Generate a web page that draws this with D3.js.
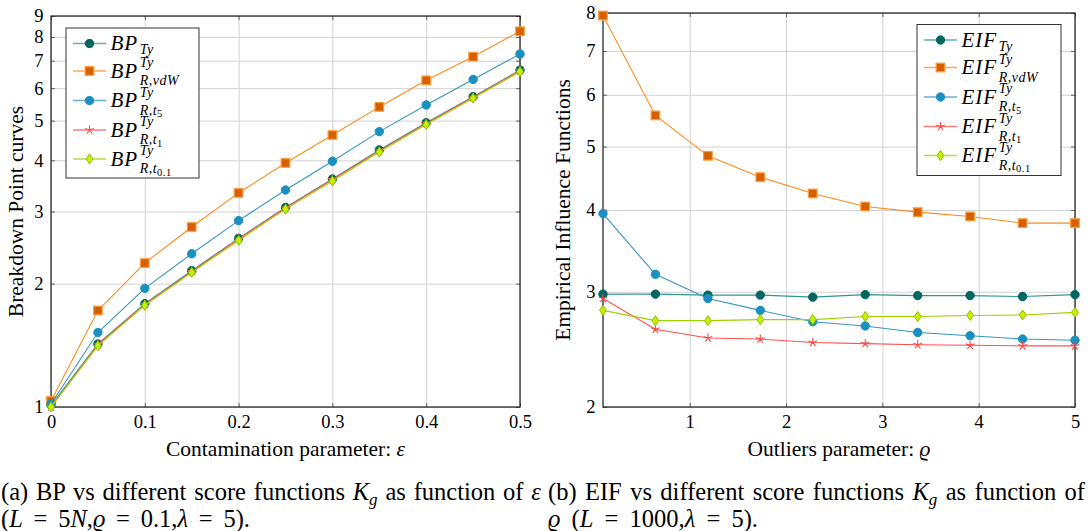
<!DOCTYPE html>
<html>
<head>
<meta charset="utf-8">
<script src="https://cdn.jsdelivr.net/npm/d3@7"></script>
<style>
body { margin: 0; background: #fff; }
</style>
</head>
<body>
<div class="canvas"></div>
<script>
// left panel: breakdown point vs contamination
const epsilon = [0, 0.05, 0.1, 0.15, 0.2, 0.25, 0.3, 0.35, 0.4, 0.45, 0.5];
const bpTy  = [1.01, 1.425, 1.787, 2.151, 2.58, 3.07, 3.60, 4.24, 4.94, 5.72, 6.64];
const bpVdW = [1.034, 1.72, 2.245, 2.75, 3.33, 3.94, 4.61, 5.40, 6.27, 7.16, 8.26];
const bpT5  = [1.017, 1.52, 1.948, 2.366, 2.85, 3.385, 3.98, 4.70, 5.46, 6.30, 7.27];
const bpT1  = [1.00, 1.42, 1.78, 2.14, 2.57, 3.06, 3.59, 4.22, 4.92, 5.70, 6.62];
const bpT01 = [1.00, 1.41, 1.77, 2.13, 2.55, 3.04, 3.56, 4.19, 4.89, 5.67, 6.58];
const bpXTicks = [0, 0.1, 0.2, 0.3, 0.4, 0.5];
const bpYTicks = [1, 2, 3, 4, 5, 6, 7, 8, 9];

// right panel: empirical influence vs outliers parameter
const rho = [0.1, 0.644, 1.189, 1.733, 2.278, 2.822, 3.367, 3.911, 4.456, 5];
const eifTy  = [2.975, 2.975, 2.965, 2.965, 2.944, 2.97, 2.96, 2.96, 2.95, 2.97];
const eifVdW = [7.93, 5.58, 4.84, 4.49, 4.24, 4.05, 3.97, 3.91, 3.82, 3.82];
const eifT5  = [3.95, 3.19, 2.93, 2.81, 2.70, 2.66, 2.60, 2.57, 2.54, 2.53];
const eifT1  = [2.93, 2.63, 2.55, 2.54, 2.51, 2.50, 2.49, 2.485, 2.48, 2.48];
const eifT01 = [2.81, 2.71, 2.71, 2.72, 2.72, 2.75, 2.75, 2.76, 2.765, 2.79];
const eifXTicks = [1, 2, 3, 4, 5];
const eifYTicks = [2, 3, 4, 5, 6, 7, 8];

// legend sub/superscripts, same order as series
const legendSup = [null, 'Ty', 'Ty', 'Ty', 'Ty'];
const legendSub = [[['Ty', 0]], [['R,vdW', 0]], [['R,t', 0], ['5', 1]], [['R,t', 0], ['1', 1]], [['R,t', 0], ['0.1', 1]]];

const FONT = '"Liberation Serif"';

// styles per series
const styles = [
    {line: '#2e9591', fill: '#00665f', stroke: '#00665f', mark: 'circle'},
    {line: '#ff8a1c', fill: '#d46000', stroke: '#ff9a3a', mark: 'square'},
    {line: '#3796bd', fill: '#1a90c0', stroke: '#1a90c0', mark: 'circle'},
    {line: '#ff5252', fill: 'none', stroke: '#ff4545', mark: 'star'},
    {line: '#9fd000', fill: '#c6f000', stroke: '#8cc000', mark: 'diamond'}
];

const svg = d3.select('.canvas').append('svg')
    .attr('width', 1089)
    .attr('height', 531);

function drawMark(sel, st) {
    if (st.mark === 'circle') {
        sel.append('circle').attr('r', 4.2).attr('fill', st.fill).attr('stroke', st.stroke);
    } else if (st.mark === 'square') {
        sel.append('rect').attr('x', -4.3).attr('y', -4.3).attr('width', 8.6).attr('height', 8.6)
            .attr('fill', st.fill).attr('stroke', st.stroke).attr('stroke-width', 1.2);
    } else if (st.mark === 'star') {
        const p = d3.path();
        for (let k = 0; k < 5; k++) {
            const a = -Math.PI / 2 + k * 2 * Math.PI / 5;
            p.moveTo(0, 0);
            p.lineTo(4.6 * Math.cos(a), 4.6 * Math.sin(a));
        }
        sel.append('path').attr('d', p.toString()).attr('stroke', st.stroke).attr('stroke-width', 1.1).attr('fill', 'none');
    } else {
        sel.append('path').attr('d', 'M0,-5L3.4,0L0,5L-3.4,0Z')
            .attr('fill', st.fill).attr('stroke', st.stroke).attr('stroke-width', 1);
    }
}

function panel(o) {
    const g = svg.append('g');
    const x = d3.scaleLinear().domain(o.xDomain).range([o.left, o.right]);
    const y = d3.scaleLog().domain(o.yDomain).range([o.bottom, o.top]);
    const w = o.right - o.left, h = o.bottom - o.top;

    // grid
    g.append('g').attr('transform', `translate(0,${o.bottom})`)
        .call(d3.axisBottom(x).tickValues(o.xTicks).tickSize(-h).tickFormat(''))
        .call(a => a.select('.domain').remove())
        .selectAll('line').attr('stroke', '#d2d2d2');
    g.append('g').attr('transform', `translate(${o.left},0)`)
        .call(d3.axisLeft(y).tickValues(o.yTicks).tickSize(-w).tickFormat(''))
        .call(a => a.select('.domain').remove())
        .selectAll('line').attr('stroke', '#d2d2d2');

    // small inner ticks on all four sides
    const inner = [
        [d3.axisBottom(x).tickValues(o.xTicks), `translate(0,${o.bottom})`],
        [d3.axisTop(x).tickValues(o.xTicks), `translate(0,${o.top})`],
        [d3.axisLeft(y).tickValues(o.yTicks), `translate(${o.left},0)`],
        [d3.axisRight(y).tickValues(o.yTicks), `translate(${o.right},0)`]
    ];
    inner.forEach(([ax, tr]) => {
        g.append('g').attr('transform', tr)
            .call(ax.tickSize(-4).tickFormat(''))
            .call(a => a.select('.domain').remove())
            .selectAll('line').attr('stroke', '#666');
    });

    g.append('rect')
        .attr('x', o.left).attr('y', o.top).attr('width', w).attr('height', h)
        .attr('fill', 'none').attr('stroke', '#1a1a1a').attr('stroke-width', 1.2);

    // tick labels
    g.append('g').attr('transform', `translate(0,${o.bottom})`)
        .call(d3.axisBottom(x).tickValues(o.xTicks).tickSize(0).tickPadding(8).tickFormat(d => String(d)))
        .call(a => a.select('.domain').remove())
        .selectAll('text').style('font-size', '18.5px');
    g.append('g').attr('transform', `translate(${o.left},0)`)
        .call(d3.axisLeft(y).tickValues(o.yTicks).tickSize(0).tickPadding(7.5).tickFormat(d => String(d)))
        .call(a => a.select('.domain').remove())
        .selectAll('text').style('font-size', '18.5px');

    // axis titles
    const xt = g.append('text')
        .attr('x', (o.left + o.right) / 2).attr('y', 456)
        .attr('text-anchor', 'middle').style('font-size', '21.5px')
        .text(o.xTitle);
    xt.append('tspan').style('font-style', 'italic').text(' ' + o.xSymbol);
    g.append('text')
        .attr('transform', `translate(${o.yTitleX},${(o.top + o.bottom) / 2}) rotate(-90)`)
        .attr('text-anchor', 'middle').style('font-size', '21.5px')
        .text(o.yTitle);

    // series
    const line = d3.line().x(d => x(d[0])).y(d => y(d[1]));
    o.series.forEach((ys, i) => {
        const pts = d3.zip(o.xs, ys);
        g.append('path').datum(pts)
            .attr('d', line)
            .attr('fill', 'none')
            .attr('stroke', styles[i].line)
            .attr('stroke-width', 1.1);
        g.append('g').selectAll('g').data(pts).join('g')
            .attr('transform', d => `translate(${x(d[0])},${y(d[1])})`)
            .each(function() { drawMark(d3.select(this), styles[i]); });
    });

    // legend
    const L = o.legend;
    const lg = g.append('g');
    lg.append('rect')
        .attr('x', L.x).attr('y', L.y).attr('width', L.w).attr('height', L.h)
        .attr('fill', '#fff').attr('stroke', '#333').attr('stroke-width', 1);
    const rows = [15.5, 43, 72.5, 102, 131];
    styles.forEach((st, i) => {
        const cy = L.y + rows[i];
        lg.append('line')
            .attr('x1', L.x + 7).attr('x2', L.x + 40).attr('y1', cy).attr('y2', cy)
            .attr('stroke', st.line).attr('stroke-width', 1.4).attr('opacity', 0.75);
        drawMark(lg.append('g').attr('transform', `translate(${L.x + 23.5},${cy})`), st);

        const tx = L.x + 44.5, base = cy + 6.5;
        const t = lg.append('text')
            .attr('x', tx).attr('y', base)
            .style('font-family', FONT)
            .style('font-size', '21px').style('font-style', 'italic')
            .style('letter-spacing', '1px')
            .text(o.legendBase);
        const tw = t.node().getComputedTextLength() + 1.5;
        if (legendSup[i]) {
            lg.append('text')
                .attr('x', tx + tw).attr('y', base - 10.5)
                .style('font-size', '14px').style('font-style', 'italic')
                .style('letter-spacing', '0.5px')
                .text(legendSup[i]);
        }
        const s = lg.append('text')
            .attr('x', tx + tw).attr('y', base + (legendSup[i] ? 7.5 : 4))
            .style('font-size', '14px').style('font-style', 'italic')
            .style('letter-spacing', '0.5px');
        legendSub[i].forEach(([txt, lvl]) => {
            const sp = s.append('tspan').text(txt);
            if (lvl) sp.attr('dy', 2.5).style('font-size', '10.5px').style('font-style', 'normal');
        });
    });
}

panel({
    left: 51, right: 520, top: 16, bottom: 407,
    xDomain: [0, 0.5], yDomain: [1, 9],
    xTicks: bpXTicks, yTicks: bpYTicks,
    xs: epsilon, series: [bpTy, bpVdW, bpT5, bpT1, bpT01],
    xTitle: 'Contamination parameter:', xSymbol: 'ε',
    yTitle: 'Breakdown Point curves', yTitleX: 23,
    legendBase: 'BP',
    legend: {x: 66, y: 28, w: 133, h: 150}
});

panel({
    left: 603, right: 1075, top: 13, bottom: 407,
    xDomain: [0.1, 5], yDomain: [2, 8],
    xTicks: eifXTicks, yTicks: eifYTicks,
    xs: rho, series: [eifTy, eifVdW, eifT5, eifT1, eifT01],
    xTitle: 'Outliers parameter:', xSymbol: 'ϱ',
    yTitle: 'Empirical Influence Functions', yTitleX: 569.5,
    legendBase: 'EIF',
    legend: {x: 917, y: 24.5, w: 144, h: 151}
});

// captions, justified by widening the word spaces
function caption(x0, yb, parts, width) {
    const t = svg.append('text').attr('x', x0).attr('y', yb)
        .style('font-family', FONT).style('font-size', '24.5px');
    parts.forEach(([txt, kind]) => {
        const sp = t.append('tspan').text(txt);
        if (kind === 'i') sp.style('font-style', 'italic');
        if (kind === 'sub') sp.style('font-style', 'italic').style('font-size', '17px').attr('dy', 5);
        if (kind === 'up') sp.attr('dy', -5);
    });
    const natural = t.node().getComputedTextLength();
    const spaces = parts.map(p => p[0]).join('').split(' ').length - 1;
    if (spaces > 0) t.style('word-spacing', Math.max(0, (width - natural) / spaces) + 'px');
}

caption(1, 500, [['(a) BP vs different score functions '], ['K', 'i'], ['g', 'sub'], [' as function of ', 'up'], ['ε', 'i']], 540);
caption(1, 527, [['('], ['L', 'i'], [' = 5'], ['N', 'i'], [','], ['ϱ', 'i'], [' = 0.1,'], ['λ', 'i'], [' = 5).']], 249);
caption(548, 500, [['(b) EIF vs different score functions '], ['K', 'i'], ['g', 'sub'], [' as function of', 'up']], 537);
caption(548, 527, [['ϱ', 'i'], [' ('], ['L', 'i'], [' = 1000,'], ['λ', 'i'], [' = 5).']], 210);

// serif everywhere, including the axis groups d3 tags as sans-serif
svg.selectAll('g').attr('font-family', null);
svg.selectAll('text').style('font-family', FONT).style('fill', '#000');
</script>
</body>
</html>
